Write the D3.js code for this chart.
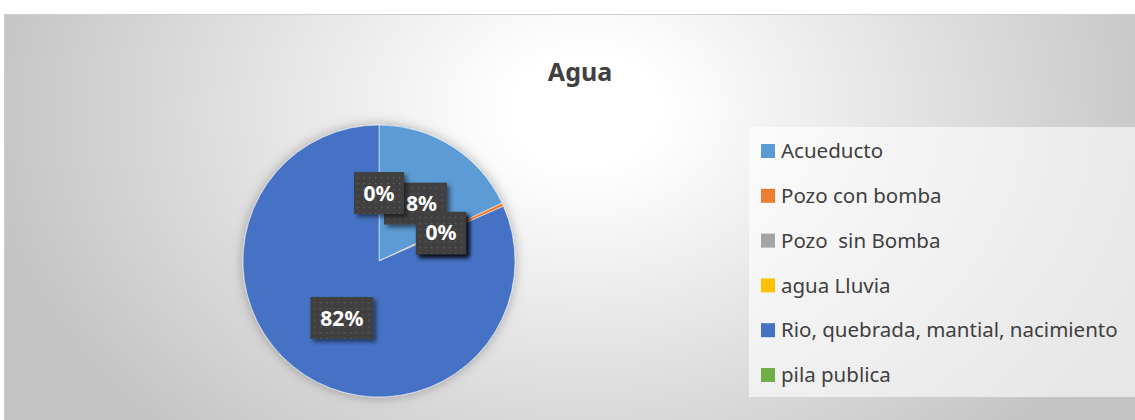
<!DOCTYPE html>
<html>
<head>
<meta charset="utf-8">
<script src="https://cdn.jsdelivr.net/npm/d3@7"></script>
<style>
  body { margin: 0; background: #fff; }
  svg { display: block; font-family: "Noto Sans", "Open Sans", sans-serif; }
  text { white-space: pre; }
</style>
</head>
<body>
<svg id="chart" width="1135" height="420"></svg>
<script>
// data
var categories = ["Acueducto", "Pozo con bomba", "Pozo  sin Bomba", "agua Lluvia", "Rio, quebrada, mantial, nacimiento", "pila publica"];
var values = [18, 0.4, 0, 0, 81.6, 0];
var labels = ["18%", "0%", "0%", "0%", "82%", "0%"];
var colors = ["#5B9BD5", "#ED7D31", "#A5A5A5", "#FFC000", "#4472C4", "#70AD47"];

var width = 1135, height = 420;
var svg = d3.select("#chart");
var defs = svg.append("defs");

// chart area background
var bg = defs.append("radialGradient")
    .attr("id", "bg")
    .attr("gradientUnits", "userSpaceOnUse")
    .attr("cx", 585).attr("cy", 110).attr("r", 620)
    .attr("gradientTransform", "translate(585,110) scale(1,0.75) translate(-585,-110)");
bg.append("stop").attr("offset", "0").attr("stop-color", "#ffffff");
bg.append("stop").attr("offset", "0.12").attr("stop-color", "#ffffff");
bg.append("stop").attr("offset", "1").attr("stop-color", "#c2c2c2");

var shadow = defs.append("filter").attr("id", "shadow")
    .attr("x", "-20%").attr("y", "-20%").attr("width", "140%").attr("height", "140%");
shadow.append("feDropShadow").attr("dx", 0).attr("dy", 0).attr("stdDeviation", 6)
    .attr("flood-color", "#000").attr("flood-opacity", 0.3);

var boxShadow = defs.append("filter").attr("id", "boxShadow")
    .attr("x", "-30%").attr("y", "-30%").attr("width", "160%").attr("height", "160%");
boxShadow.append("feDropShadow").attr("dx", 3).attr("dy", 3).attr("stdDeviation", 2)
    .attr("flood-color", "#000").attr("flood-opacity", 0.5);

var dots = defs.append("pattern").attr("id", "dots")
    .attr("patternUnits", "userSpaceOnUse").attr("width", 6).attr("height", 6);
dots.append("rect").attr("width", 6).attr("height", 6).attr("fill", "#404040");
dots.append("rect").attr("x", 2).attr("y", 2).attr("width", 1.4).attr("height", 1.4).attr("fill", "#5c5c5c");

svg.append("rect")
    .attr("x", 4.5).attr("y", 14.5)
    .attr("width", width + 10).attr("height", height)
    .attr("fill", "url(#bg)")
    .attr("stroke", "#cfcfcf");

// title
svg.append("text")
    .attr("x", 580).attr("y", 81)
    .attr("text-anchor", "middle")
    .attr("font-size", 25).attr("font-weight", "bold")
    .attr("fill", "#404040")
    .text("Agua");

// pie
var radius = 136;
var cx = 379, cy = 261;
var pie = d3.pie().sort(null).value(function(d) { return d; });
var arcs = pie(values);
var arc = d3.arc().innerRadius(0).outerRadius(radius);
var labelArc = d3.arc().innerRadius(radius * 0.5).outerRadius(radius * 0.5);

var g = svg.append("g").attr("transform", "translate(" + cx + "," + cy + ")");
g.append("g").attr("filter", "url(#shadow)")
  .selectAll("path")
  .data(arcs)
  .enter().append("path")
    .attr("d", arc)
    .attr("fill", function(d, i) { return colors[i]; })
    .attr("stroke", function(d) { return d.value > 0 ? "#fff" : "none"; })
    .attr("stroke-width", 0.5);

// data labels
var labelOrder = [0, 2, 3, 1, 4, 5];
var lab = g.selectAll("g.lab")
  .data(labelOrder.map(function(i) { return { a: arcs[i], t: labels[i] }; }))
  .enter().append("g")
    .attr("class", "lab")
    .attr("transform", function(d) {
      var c = labelArc.centroid(d.a);
      return "translate(" + c[0] + "," + c[1] + ")";
    });
lab.each(function(d) {
  var w = d.t.length > 2 ? 63 : 50;
  d3.select(this).append("rect")
    .attr("x", -w / 2).attr("y", -21)
    .attr("width", w).attr("height", 42)
    .attr("fill", "url(#dots)")
    .attr("filter", "url(#boxShadow)");
  d3.select(this).append("text")
    .attr("text-anchor", "middle")
    .attr("dy", "0.36em")
    .attr("font-size", 21).attr("font-weight", "bold")
    .attr("fill", "#fff")
    .text(d.t);
});

// legend
var lx = 749, ly = 127;
svg.append("rect")
    .attr("x", lx).attr("y", ly)
    .attr("width", 400).attr("height", 270)
    .attr("fill", "#ffffff").attr("fill-opacity", 0.6);

var legend = svg.append("g").selectAll("g")
  .data(categories)
  .enter().append("g")
    .attr("transform", function(d, i) { return "translate(" + (lx + 12) + "," + (ly + 24 + i * 44.8) + ")"; });
legend.append("rect")
    .attr("x", 0).attr("y", -7)
    .attr("width", 14).attr("height", 14)
    .attr("fill", function(d, i) { return colors[i]; });
legend.append("text")
    .attr("x", 20).attr("dy", "0.35em")
    .attr("font-size", 20.5)
    .attr("fill", "#404040")
    .text(function(d) { return d; });
</script>
</body>
</html>
